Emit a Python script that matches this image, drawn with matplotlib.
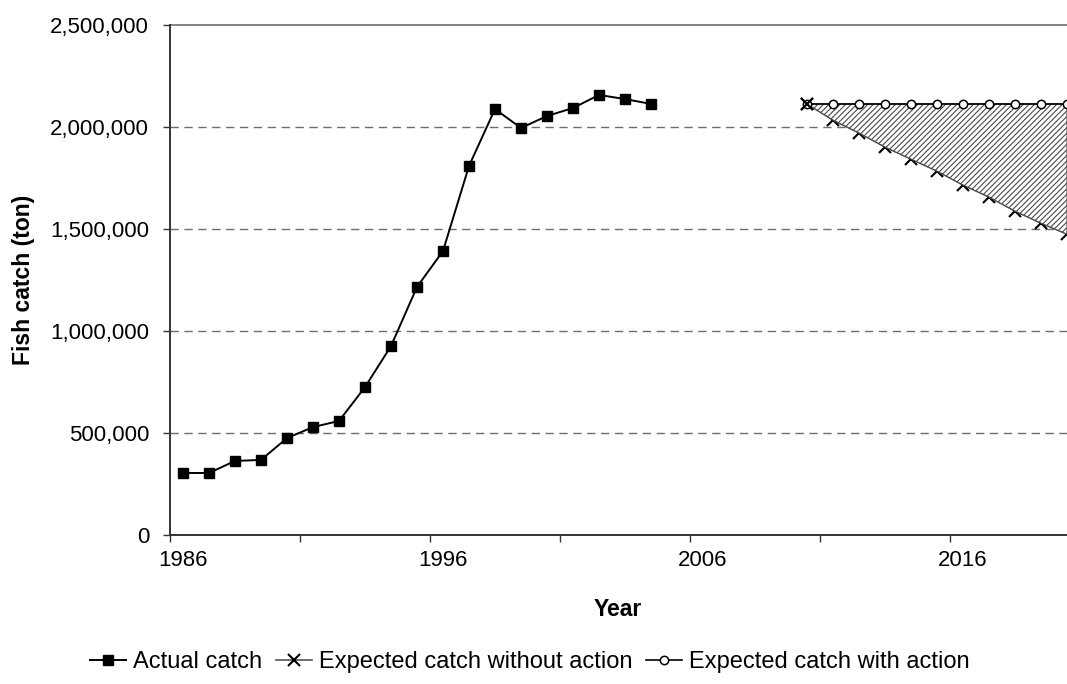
import matplotlib
matplotlib.use("Agg")
import matplotlib.pyplot as plt
from matplotlib.ticker import FuncFormatter, FixedLocator

plt.rcParams['font.family'] = ['Liberation Sans', 'DejaVu Sans']
plt.rcParams['hatch.linewidth'] = 0.8

# ---- data ----
actual_years = list(range(1986, 2005))
actual_catch = [304000, 304000, 363000, 368000, 475000, 529000, 559000, 725000,
                926000, 1216000, 1392000, 1809000, 2088000, 1995000, 2054000,
                2093000, 2157000, 2137000, 2113000]

future_years = list(range(2010, 2021))
without_action = [2113000, 2034000, 1971000, 1902000, 1843000, 1784000,
                  1716000, 1657000, 1588000, 1529000, 1475000]
with_action = [2113000] * 11

y_ticks = [0, 500000, 1000000, 1500000, 2000000, 2500000]
x_label_years = [1986, 1996, 2006, 2016]

# ---- figure ----
fig = plt.figure(figsize=(10.67, 6.84), dpi=100)
ax = fig.add_axes([170 / 1067, 1 - 535 / 684, 1 - 170 / 1067, (535 - 25) / 684])

ax.set_xlim(1985.5, 2020.0)
ax.set_ylim(0, 2500000)

# gridlines
for v in y_ticks[1:-1]:
    ax.axhline(v, color='#6e6e6e', lw=1.0, ls=(0, (6, 4)), zorder=1)
ax.axhline(2500000, color='#6e6e6e', lw=1.2, zorder=1, clip_on=False)

ax.plot(actual_years, actual_catch, color='black', lw=1.4, marker='s',
        markersize=7.2, markerfacecolor='black', markeredgecolor='black',
        label='Actual catch', zorder=5)
ax.fill_between(future_years, without_action, with_action, facecolor='white',
                edgecolor='#4a4a4a', hatch='//////', linewidth=0.8, zorder=3)
ax.plot(future_years, with_action, color='black', lw=1.2, marker='o',
        markersize=6, markerfacecolor='white', markeredgecolor='black',
        markeredgewidth=1.1, label='Expected catch with action', zorder=4)
ax.plot(future_years, without_action, color='#555555', lw=1.2, marker='x',
        markersize=9, markeredgewidth=1.5, markeredgecolor='black',
        label='Expected catch without action', zorder=2)
# first point of the no-action series sits on top of the circle
ax.plot(future_years[:1], without_action[:1], ls='none', marker='x',
        markersize=9, markeredgewidth=1.5, markeredgecolor='black', zorder=4.5)

# spines
ax.spines['right'].set_visible(False)
ax.spines['top'].set_visible(False)
for s in ['left', 'bottom']:
    ax.spines[s].set_color('#333333')
    ax.spines[s].set_linewidth(1.4)
    ax.spines[s].set_zorder(6)

# y axis
ax.yaxis.set_major_locator(FixedLocator(y_ticks))
ax.yaxis.set_major_formatter(FuncFormatter(lambda v, p: f'{int(v):,}'))
ax.tick_params(axis='y', direction='out', length=5, width=1.0, color='#333333',
               labelsize=16, pad=10)

# x axis: ticks between categories every 5, labels every 10
ax.set_xticks([1985.5 + 5 * i for i in range(7)])
ax.set_xticklabels([])
ax.tick_params(axis='x', which='major', direction='out', length=5, width=1.0,
               color='#333333')
ax.set_xticks(x_label_years, minor=True)
ax.set_xticklabels([str(y) for y in x_label_years], minor=True)
ax.tick_params(axis='x', which='minor', length=0, labelsize=16, pad=11)

fig.text(24 / 1067, 1 - 280 / 684, 'Fish catch (ton)', rotation=90,
         fontsize=16.5, fontweight='bold', ha='center', va='center')
fig.text(618 / 1067, 1 - 609 / 684, 'Year', fontsize=16.5, fontweight='bold',
         ha='center', va='center')

handles, labels = ax.get_legend_handles_labels()
order = [0, 2, 1]
fig.legend([handles[i] for i in order], [labels[i] for i in order],
           loc='center', bbox_to_anchor=(530 / 1067, 1 - 662 / 684),
           ncol=3, frameon=False, fontsize=17, handlelength=1.5,
           handletextpad=0.3, columnspacing=0.6, borderaxespad=0)

fig.savefig('out.png', dpi=100)
